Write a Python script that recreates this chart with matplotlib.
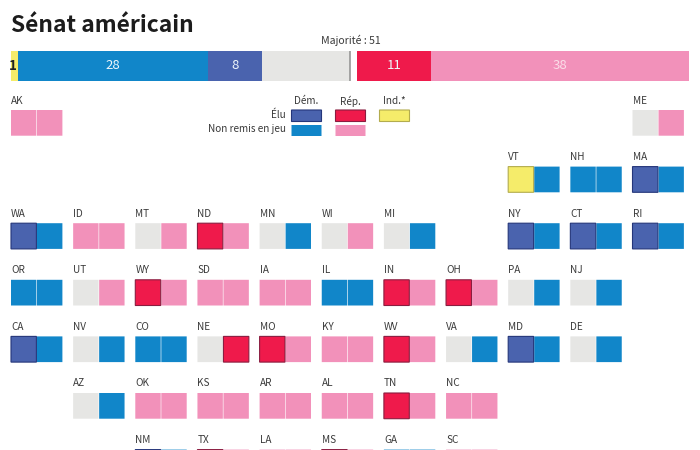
import matplotlib
matplotlib.use("Agg")
import matplotlib.pyplot as plt

plt.rcParams['font.family'] = ['Noto Sans CJK SC', 'DejaVu Sans']

# ---- data ----
title = "Sénat américain"
majority_label = "Majorité : 51"
majority_seats = 50
seat_keys = ["ind_elu", "dem_nr", "dem_elu", "open", "rep_elu", "rep_nr"]
seat_values = [1, 28, 8, 14, 11, 38]
seat_labels = ["1", "28", "8", "", "11", "38"]

states = ["AK", "ME",
          "VT", "NH", "MA",
          "WA", "ID", "MT", "ND", "MN", "WI", "MI", "NY", "CT", "RI",
          "OR", "UT", "WY", "SD", "IA", "IL", "IN", "OH", "PA", "NJ",
          "CA", "NV", "CO", "NE", "MO", "KY", "WV", "VA", "MD", "DE",
          "AZ", "OK", "KS", "AR", "AL", "TN", "NC",
          "NM", "TX", "LA", "MS", "GA", "SC"]
seat_a = ["rep_nr", "open",
          "ind_elu", "dem_nr", "dem_elu",
          "dem_elu", "rep_nr", "open", "rep_elu", "open", "open", "open", "dem_elu", "dem_elu", "dem_elu",
          "dem_nr", "open", "rep_elu", "rep_nr", "rep_nr", "dem_nr", "rep_elu", "rep_elu", "open", "open",
          "dem_elu", "open", "dem_nr", "open", "rep_elu", "rep_nr", "rep_elu", "open", "dem_elu", "open",
          "open", "rep_nr", "rep_nr", "rep_nr", "rep_nr", "rep_elu", "rep_nr",
          "dem_elu", "rep_elu", "rep_nr", "rep_elu", "dem_nr", "rep_nr"]
seat_b = ["rep_nr", "rep_nr",
          "dem_nr", "dem_nr", "dem_nr",
          "dem_nr", "rep_nr", "rep_nr", "rep_nr", "dem_nr", "rep_nr", "dem_nr", "dem_nr", "dem_nr", "dem_nr",
          "dem_nr", "rep_nr", "rep_nr", "rep_nr", "rep_nr", "dem_nr", "rep_nr", "rep_nr", "dem_nr", "dem_nr",
          "dem_nr", "dem_nr", "dem_nr", "rep_elu", "rep_nr", "rep_nr", "rep_nr", "dem_nr", "dem_nr", "dem_nr",
          "dem_nr", "rep_nr", "rep_nr", "rep_nr", "rep_nr", "rep_nr", "rep_nr",
          "dem_nr", "rep_nr", "rep_nr", "rep_nr", "dem_nr", "rep_nr"]
grid_col = [0, 10,
            8, 9, 10,
            0, 1, 2, 3, 4, 5, 6, 8, 9, 10,
            0, 1, 2, 3, 4, 5, 6, 7, 8, 9,
            0, 1, 2, 3, 4, 5, 6, 7, 8, 9,
            1, 2, 3, 4, 5, 6, 7,
            2, 3, 4, 5, 6, 7]
grid_row = [0, 0,
            1, 1, 1,
            2, 2, 2, 2, 2, 2, 2, 2, 2, 2,
            3, 3, 3, 3, 3, 3, 3, 3, 3, 3,
            4, 4, 4, 4, 4, 4, 4, 4, 4, 4,
            5, 5, 5, 5, 5, 5, 5,
            6, 6, 6, 6, 6, 6]
legend_cols = ["Dém.", "Rép.", "Ind.*"]
legend_rows = ["Élu", "Non remis en jeu"]

# ---- styles ----
FILL = {"ind_elu": "#f5ec6a", "dem_nr": "#1186c9", "dem_elu": "#4a63ae",
        "open": "#e6e6e4", "rep_elu": "#ef1a4b", "rep_nr": "#f291ba"}
EDGE = {"ind_elu": "#b3ac4e", "dem_elu": "#25367a", "rep_elu": "#8a1d40"}
INK = "#3a3a3a"

fig = plt.figure(figsize=(7, 4.5), dpi=100)
ax = fig.add_axes([0, 0, 1, 1])
ax.set_xlim(0, 700)
ax.set_ylim(450, 0)
ax.axis("off")

ax.text(11, 32.5, title, fontsize=16.4, fontweight="bold", color="#1c1c1c",
        ha="left", va="baseline")
ax.text(350.5, 40.5, majority_label, fontsize=7.6, color=INK, ha="center", va="center")

# ---- stacked seat bar, on its own seats scale ----
bar = fig.add_axes([11 / 700, 1 - 80.5 / 450, 678 / 700, 29.5 / 450])
bar.set_xlim(0, 100)
bar.set_ylim(0, 1)
bar.axis("off")
left = 0
for key, val, lab in zip(seat_keys, seat_values, seat_labels):
    bar.barh(0.5, val, left=left, height=1, color=FILL[key], linewidth=0)
    if lab:
        dark = key == "ind_elu"
        bar.text(left + val / 2 - (0.2 if dark else 0), 0.5, lab, fontsize=9.5,
                 fontweight="bold" if dark else "normal",
                 color="#222222" if dark else "#eef6fb" if key != "rep_nr" else "#fbdde8",
                 ha="center", va="center")
    left += val
bar.barh(0.5, 1, left=majority_seats, height=1, color="white", linewidth=0)
bar.plot([majority_seats, majority_seats], [0, 1], color="#8f8f8f", lw=1.1, solid_capstyle="butt")

# ---- state cells ----
X0, CSTEP, Y0, RSTEP, CELL, H = 11, 62.15, 110, 56.6, 25.7, 25.7


def cell(x, y, w, h, key):
    if key in EDGE:
        parts = ax.bar(x + w / 2, h, width=w, bottom=y, color=FILL[key],
                       edgecolor=EDGE[key], linewidth=0.8, zorder=3)
    else:
        parts = ax.bar(x + w / 2, h, width=w, bottom=y, color=FILL[key], linewidth=0, zorder=2)
    for p in parts:
        p.set_snap(False)


for name, a, b, c, r in zip(states, seat_a, seat_b, grid_col, grid_row):
    x = X0 + c * CSTEP
    y = Y0 + r * RSTEP
    ax.text(x, y - 9.5, name, fontsize=7.2, color=INK, ha="left", va="center")
    cell(x, y, CELL - 0.3, H, a)
    cell(x + CELL + 0.3, y, CELL - 0.3, H, b)

# ---- legend ----
lx = [291.5, 335.5, 379.5]
for t, x in zip(legend_cols, lx):
    ax.text(x + 15, 101, t, fontsize=7.2, color=INK, ha="center", va="center")
ax.text(286, 115, legend_rows[0], fontsize=7.2, color=INK, ha="right", va="center")
ax.text(286, 129.5, legend_rows[1], fontsize=7.2, color=INK, ha="right", va="center")
for x, k in zip(lx, ["dem_elu", "rep_elu", "ind_elu"]):
    cell(x, 110, 30, 11.5, k)
for x, k in zip(lx[:2], ["dem_nr", "rep_nr"]):
    cell(x, 125, 30, 11, k)

fig.savefig("out.png", dpi=100)
